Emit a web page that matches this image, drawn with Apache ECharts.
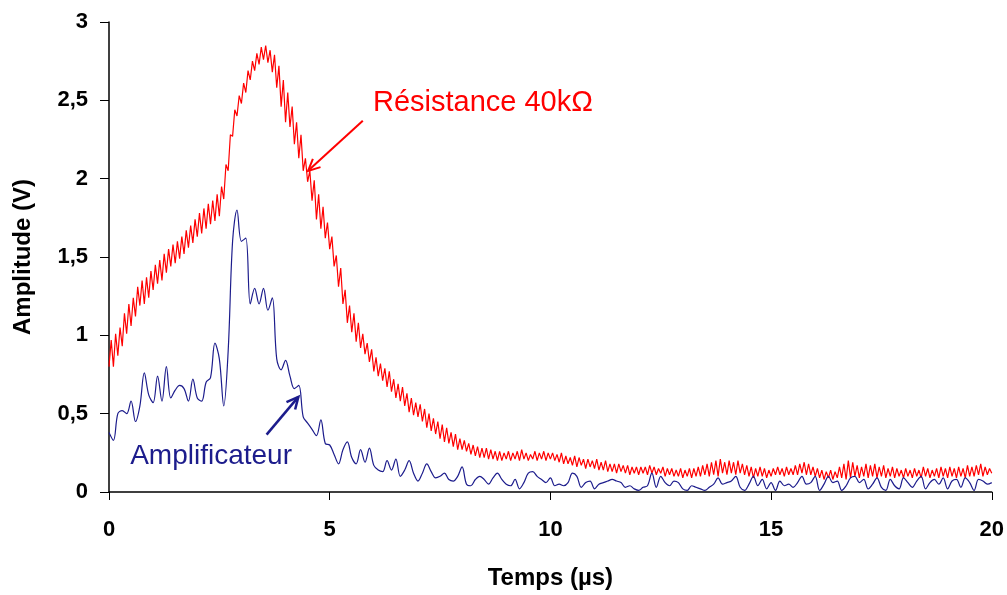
<!DOCTYPE html>
<html>
<head>
<meta charset="utf-8">
<script src="https://cdn.jsdelivr.net/npm/echarts@6/dist/echarts.min.js"></script>
<style>
  html, body { margin: 0; background: #fff; }
  #chart { width: 1007px; height: 595px; }
</style>
</head>
<body>
<div id="chart"></div>
<script>
// sample step (µs) and measured amplitudes (V)
const dtRed = 0.05
const redVolts = [
  0.80, 0.97, 0.80, 1.01, 0.87, 1.05, 0.93, 1.14, 1.01, 1.20, 1.06, 1.24, 1.12, 1.31, 1.19, 1.35, 1.20, 1.37, 1.24, 1.41,
  1.29, 1.45, 1.33, 1.48, 1.35, 1.52, 1.40, 1.55, 1.44, 1.58, 1.46, 1.60, 1.49, 1.63, 1.52, 1.67, 1.56, 1.70, 1.59, 1.74,
  1.63, 1.78, 1.65, 1.81, 1.68, 1.84, 1.71, 1.86, 1.73, 1.90, 1.76, 1.95, 1.87, 2.09, 2.05, 2.28, 2.27, 2.44, 2.40, 2.53,
  2.48, 2.61, 2.55, 2.69, 2.63, 2.75, 2.69, 2.80, 2.73, 2.84, 2.76, 2.85, 2.74, 2.82, 2.68, 2.79, 2.58, 2.72, 2.46, 2.63,
  2.36, 2.55, 2.33, 2.46, 2.22, 2.36, 2.13, 2.28, 2.05, 2.13, 1.98, 2.05, 1.86, 1.99, 1.74, 1.90, 1.68, 1.82, 1.62, 1.72,
  1.55, 1.63, 1.44, 1.51, 1.31, 1.43, 1.20, 1.29, 1.08, 1.19, 1.02, 1.14, 0.96, 1.08, 0.92, 1.01, 0.88, 0.95, 0.83, 0.91,
  0.77, 0.86, 0.74, 0.82, 0.71, 0.79, 0.67, 0.77, 0.64, 0.72, 0.60, 0.69, 0.58, 0.67, 0.55, 0.63, 0.51, 0.60, 0.49, 0.57,
  0.48, 0.56, 0.45, 0.53, 0.41, 0.50, 0.39, 0.47, 0.37, 0.45, 0.34, 0.43, 0.32, 0.41, 0.31, 0.38, 0.29, 0.37, 0.27, 0.34,
  0.27, 0.33, 0.26, 0.31, 0.24, 0.30, 0.23, 0.29, 0.22, 0.28, 0.22, 0.28, 0.21, 0.27, 0.21, 0.26, 0.20, 0.26, 0.20, 0.25,
  0.21, 0.26, 0.20, 0.25, 0.21, 0.26, 0.20, 0.27, 0.21, 0.25, 0.20, 0.24, 0.21, 0.26, 0.20, 0.25, 0.21, 0.26, 0.20, 0.25,
  0.21, 0.25, 0.20, 0.24, 0.19, 0.25, 0.18, 0.23, 0.18, 0.22, 0.17, 0.23, 0.16, 0.22, 0.17, 0.21, 0.15, 0.21, 0.16, 0.20,
  0.15, 0.21, 0.14, 0.19, 0.14, 0.20, 0.13, 0.18, 0.13, 0.18, 0.12, 0.18, 0.13, 0.17, 0.12, 0.17, 0.11, 0.16, 0.12, 0.16,
  0.11, 0.16, 0.12, 0.16, 0.11, 0.17, 0.12, 0.16, 0.11, 0.15, 0.12, 0.16, 0.10, 0.15, 0.11, 0.15, 0.10, 0.14, 0.10, 0.15,
  0.09, 0.14, 0.10, 0.15, 0.09, 0.15, 0.10, 0.16, 0.10, 0.17, 0.11, 0.18, 0.10, 0.19, 0.11, 0.20, 0.10, 0.21, 0.12, 0.19,
  0.11, 0.20, 0.12, 0.19, 0.11, 0.20, 0.12, 0.18, 0.11, 0.17, 0.10, 0.16, 0.09, 0.15, 0.10, 0.16, 0.10, 0.15, 0.09, 0.14,
  0.10, 0.15, 0.11, 0.16, 0.11, 0.15, 0.10, 0.16, 0.11, 0.15, 0.11, 0.17, 0.11, 0.18, 0.12, 0.19, 0.11, 0.18, 0.11, 0.16,
  0.10, 0.15, 0.09, 0.14, 0.08, 0.13, 0.09, 0.14, 0.08, 0.13, 0.09, 0.16, 0.09, 0.18, 0.08, 0.20, 0.09, 0.19, 0.10, 0.17,
  0.09, 0.16, 0.10, 0.18, 0.09, 0.17, 0.10, 0.18, 0.09, 0.16, 0.10, 0.17, 0.09, 0.15, 0.10, 0.16, 0.09, 0.15, 0.10, 0.14,
  0.09, 0.15, 0.10, 0.14, 0.09, 0.15, 0.10, 0.14, 0.09, 0.16, 0.10, 0.15, 0.09, 0.14, 0.10, 0.15, 0.09, 0.16, 0.10, 0.15,
  0.09, 0.16, 0.10, 0.15, 0.09, 0.16, 0.10, 0.15, 0.09, 0.17, 0.10, 0.16, 0.10, 0.17, 0.11, 0.18, 0.10, 0.16, 0.11, 0.15,
  0.12
]

const dtBlue = 0.1
const blueVolts = [
  0.38, 0.33, 0.50, 0.52, 0.50, 0.58, 0.45, 0.55, 0.76, 0.62,
  0.57, 0.74, 0.58, 0.80, 0.60, 0.65, 0.68, 0.66, 0.58, 0.72,
  0.60, 0.58, 0.70, 0.73, 0.95, 0.85, 0.55, 0.90, 1.60, 1.80,
  1.60, 1.62, 1.20, 1.30, 1.20, 1.30, 1.16, 1.24, 0.85, 0.78,
  0.84, 0.74, 0.66, 0.68, 0.48, 0.44, 0.40, 0.36, 0.46, 0.31,
  0.30, 0.24, 0.18, 0.27, 0.32, 0.22, 0.18, 0.27, 0.19, 0.28,
  0.17, 0.14, 0.13, 0.20, 0.14, 0.21, 0.10, 0.14, 0.20, 0.12,
  0.07, 0.12, 0.18, 0.13, 0.09, 0.10, 0.12, 0.08, 0.07, 0.10,
  0.16, 0.05, 0.04, 0.08, 0.10, 0.08, 0.05, 0.09, 0.12, 0.08,
  0.05, 0.04, 0.08, 0.02, 0.06, 0.12, 0.13, 0.10, 0.08, 0.06,
  0.09, 0.04, 0.05, 0.04, 0.06, 0.12, 0.10, 0.03, 0.06, 0.07,
  0.02, 0.05, 0.06, 0.07, 0.08, 0.07, 0.06, 0.03, 0.04, 0.02,
  0.01, 0.03, 0.04, 0.12, 0.03, 0.10, 0.06, 0.04, 0.07, 0.06,
  0.02, 0.01, 0.04, 0.03, 0.02, 0.01, 0.03, 0.05, 0.09, 0.05,
  0.06, 0.07, 0.10, 0.03, 0.01, 0.05, 0.10, 0.04, 0.08, 0.02,
  0.06, 0.01, 0.07, 0.04, 0.05, 0.03, 0.06, 0.10, 0.05, 0.06,
  0.10, 0.01, 0.05, 0.10, 0.06, 0.07, 0.01, 0.04, 0.09, 0.10,
  0.06, 0.08, 0.02, 0.05, 0.09, 0.03, 0.01, 0.08, 0.04, 0.02,
  0.09, 0.06, 0.03, 0.07, 0.10, 0.02, 0.06, 0.08, 0.05, 0.09,
  0.02, 0.07, 0.08, 0.03, 0.09, 0.06, 0.01, 0.08, 0.07, 0.05,
  0.06
]

// annotations in data coordinates [µs, V]
const redNote = { text: 'Résistance 40kΩ', at: [5.98, 2.48], tail: [5.75, 2.37], head: [4.51, 2.05] }
const blueNote = { text: 'Amplificateur', at: [0.48, 0.227], tail: [3.57, 0.366], head: [4.29, 0.607] }

const RED = '#ff0000'
const BLUE = '#1c1c8c'
const FONT = "'Liberation Sans', Arial, sans-serif"

const chart = echarts.init(document.getElementById('chart'), null, { renderer: 'canvas' })

const toPairs = (vals, dt) => vals.map((v, i) => [+(i * dt).toFixed(2), v])

chart.setOption({
  animation: false,
  backgroundColor: '#fff',
  grid: { left: 109, right: 15, top: 22, bottom: 97 },
  xAxis: {
    type: 'value',
    min: 0,
    max: 20,
    interval: 5,
    name: 'Temps (µs)',
    nameLocation: 'middle',
    nameGap: 74,
    nameTextStyle: { color: '#000', fontSize: 24, fontWeight: 'bold', fontFamily: FONT },
    axisLine: { show: true, lineStyle: { color: '#000', width: 1.5 } },
    axisTick: { show: true, length: 8, lineStyle: { color: '#000', width: 1 } },
    axisLabel: { color: '#000', fontSize: 22, fontWeight: 'bold', fontFamily: FONT, margin: 27 },
    splitLine: { show: false }
  },
  yAxis: {
    type: 'value',
    min: 0,
    max: 3,
    interval: 0.5,
    name: 'Amplitude (V)',
    nameLocation: 'middle',
    nameGap: 74,
    nameRotate: 90,
    nameTextStyle: { color: '#000', fontSize: 24, fontWeight: 'bold', fontFamily: FONT },
    axisLine: { show: true, lineStyle: { color: '#000', width: 1.5 } },
    axisTick: { show: true, length: 9, lineStyle: { color: '#000', width: 1 } },
    axisLabel: {
      color: '#000', fontSize: 22, fontWeight: 'bold', fontFamily: FONT, margin: 21,
      formatter: v => String(v).replace('.', ',')
    },
    splitLine: { show: false }
  },
  series: [
    {
      name: 'Résistance 40kΩ',
      type: 'line',
      data: toPairs(redVolts, dtRed),
      showSymbol: false,
      lineStyle: { color: RED, width: 1.2 }
    },
    {
      name: 'Amplificateur',
      type: 'line',
      data: toPairs(blueVolts, dtBlue),
      showSymbol: false,
      smooth: 0.35,
      lineStyle: { color: BLUE, width: 1.2 }
    }
  ]
})

// arrow = shaft + two barbs
function arrow (note, color, width) {
  const t = chart.convertToPixel({ gridIndex: 0 }, note.tail)
  const h = chart.convertToPixel({ gridIndex: 0 }, note.head)
  const ang = Math.atan2(t[1] - h[1], t[0] - h[0])
  const len = 13, spread = 0.45
  const b1 = [h[0] + len * Math.cos(ang + spread), h[1] + len * Math.sin(ang + spread)]
  const b2 = [h[0] + len * Math.cos(ang - spread), h[1] + len * Math.sin(ang - spread)]
  return [
    { type: 'line', shape: { x1: t[0], y1: t[1], x2: h[0], y2: h[1] }, style: { stroke: color, lineWidth: width } },
    { type: 'polyline', shape: { points: [b1, h, b2] }, style: { stroke: color, lineWidth: width, fill: null } }
  ]
}

function label (note, color, size) {
  const p = chart.convertToPixel({ gridIndex: 0 }, note.at)
  return {
    type: 'text', x: p[0], y: p[1],
    style: { text: note.text, fill: color, font: size + 'px ' + FONT, textVerticalAlign: 'middle' }
  }
}

chart.setOption({
  graphic: [
    ...arrow(redNote, RED, 2),
    ...arrow(blueNote, BLUE, 2.5),
    label(redNote, RED, 29),
    label(blueNote, BLUE, 28)
  ]
})
</script>
</body>
</html>
